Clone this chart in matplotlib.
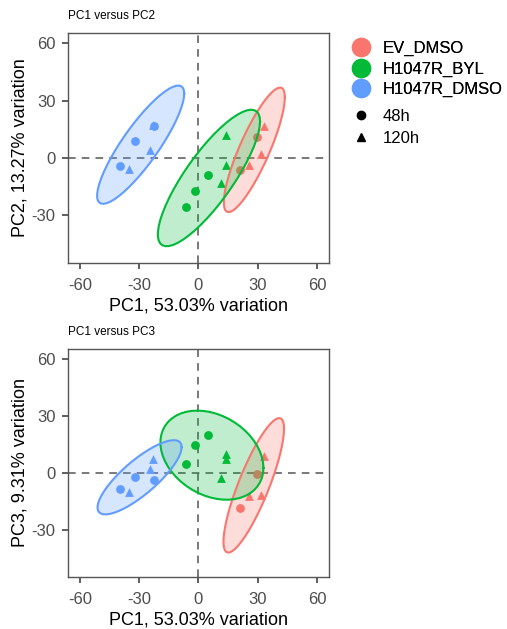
import matplotlib.pyplot as plt
import numpy as np
from matplotlib.lines import Line2D

plt.rcParams['font.family'] = ['Liberation Sans', 'DejaVu Sans']

# PCA scores per sample
grupo = ['EV_DMSO'] * 5 + ['H1047R_BYL'] * 6 + ['H1047R_DMSO'] * 6
tiempo = ['48h', '48h', '120h', '120h', '120h',
          '48h', '48h', '48h', '120h', '120h', '120h',
          '48h', '48h', '48h', '120h', '120h', '120h']
pc1 = np.array([29.7, 21.2, 33.0, 31.8, 25.6,
                4.8, -2.0, -6.2, 13.9, 13.9, 11.6,
                -22.7, -32.2, -39.6, -22.8, -24.7, -35.1])
pc2 = np.array([10.8, -6.1, 16.9, 2.1, -3.9,
                -8.7, -17.1, -25.8, 12.2, -3.5, -13.1,
                16.5, 8.7, -4.0, 17.5, 4.3, -5.6])
pc3 = np.array([-0.7, -18.8, 8.8, -11.8, -12.3,
                19.9, 15.0, 4.6, 9.9, 7.2, -2.6,
                -3.5, -1.9, -8.5, 7.2, 2.0, -10.0])

grupos = ['EV_DMSO', 'H1047R_BYL', 'H1047R_DMSO']
colores = ['#F8766D', '#00BA38', '#619CFF']
tiempos = ['48h', '120h']
marcadores = ['o', '^']
var_pc = {'PC1': 53.03, 'PC2': 13.27, 'PC3': 9.31}
ticks = [-60, -30, 0, 30, 60]


def cov_trob(x, nu=5, maxit=25, tol=0.01):
    # t-distribution robust covariance (same scheme as MASS::cov.trob)
    n, p = x.shape
    wt = np.ones(n)
    loc = x.mean(axis=0)
    w = np.sqrt(wt)
    for _ in range(maxit):
        w0 = w
        X = x - loc
        _, d, vt = np.linalg.svd(np.sqrt(w / w.sum())[:, None] * X, full_matrices=False)
        wX = X @ vt.T @ np.diag(1 / d)
        Q = (wX ** 2).sum(axis=1)
        w = wt * (nu + p) / (nu + Q)
        loc = (w[:, None] * x).sum(axis=0) / w.sum()
        if np.all(np.abs(w - w0) < tol):
            break
    sw = np.sqrt(w)[:, None] * X
    return loc, sw.T @ sw / wt.sum()


def elipse(x, y, level=0.95, segments=51):
    datos = np.column_stack([x, y])
    centro, forma = cov_trob(datos)
    dfd = len(x) - 1
    # F quantile with 2 numerator df has a closed form
    fq = dfd / 2 * ((1 - level) ** (-2 / dfd) - 1)
    radio = np.sqrt(2 * fq)
    ang = np.arange(segments + 1) * 2 * np.pi / segments
    circ = np.column_stack([np.cos(ang), np.sin(ang)])
    R = np.linalg.cholesky(forma).T
    return centro + radio * circ @ R


fig = plt.figure(figsize=(5.07, 6.29), dpi=100)
paneles = [('PC2', pc2, [0.1341, 0.5819, 0.5148, 0.3657]),
           ('PC3', pc3, [0.1341, 0.0827, 0.5148, 0.3625])]

grupo = np.array(grupo)
tiempo = np.array(tiempo)

for nombre, valy, pos in paneles:
    ax = fig.add_axes(pos)
    ax.axhline(0, color='#555555', lw=1.1, ls=(0, (5, 4)), zorder=1)
    ax.axvline(0, color='#555555', lw=1.1, ls=(0, (5, 4)), zorder=1)
    for g, c in zip(grupos, colores):
        for t, m in zip(tiempos, marcadores):
            sel = (grupo == g) & (tiempo == t)
            ax.scatter(pc1[sel], valy[sel], s=40, marker=m, color=c,
                       linewidths=0, zorder=2)
    for g, c in zip(grupos, colores):
        sel = grupo == g
        e = elipse(pc1[sel], valy[sel])
        ax.fill(e[:, 0], e[:, 1], color=c, alpha=0.25, lw=0, zorder=3)
        ax.plot(e[:, 0], e[:, 1], color=c, lw=1.5, zorder=4)
    ax.set_xlim(-66, 66)
    ax.set_ylim(-55, 65.5)
    ax.set_xticks(ticks)
    ax.set_yticks(ticks[1:])
    ax.set_xticklabels([str(v) for v in ticks])
    ax.set_yticklabels([str(v) for v in ticks[1:]])
    ax.tick_params(length=4, width=1.1, color='#333333', labelsize=12,
                   labelcolor='#4d4d4d', pad=6.5)
    ax.tick_params(axis='y', pad=5)
    for s in ax.spines.values():
        s.set_color('#555555')
        s.set_linewidth(1.0)
    ax.set_xlabel('PC1, %.2f%% variation' % var_pc['PC1'], fontsize=13, labelpad=3.5)
    ax.set_ylabel('%s, %.2f%% variation' % (nombre, var_pc[nombre]), fontsize=13, labelpad=2)
    ax.set_title('PC1 versus %s' % nombre, fontsize=8.5, loc='left', pad=10)

# legends: colour by group, shape by time
h_col = [Line2D([], [], ls='', marker='o', ms=13, color=c) for c in colores]
h_shp = [Line2D([], [], ls='', marker=m, ms=6, color='black') for m in marcadores]
leg1 = fig.legend(h_col, grupos, loc='upper left', bbox_to_anchor=(0.6856, 0.9345),
                  frameon=False, fontsize=12, handletextpad=0.52, labelspacing=0.31,
                  handlelength=1.6, borderpad=0, borderaxespad=0)
fig.add_artist(leg1)
fig.legend(h_shp, tiempos, loc='upper left', bbox_to_anchor=(0.6856, 0.8264),
           frameon=False, fontsize=12, handletextpad=0.52, labelspacing=0.39,
           handlelength=1.6, borderpad=0, borderaxespad=0)

plt.savefig('out.png', dpi=100)
